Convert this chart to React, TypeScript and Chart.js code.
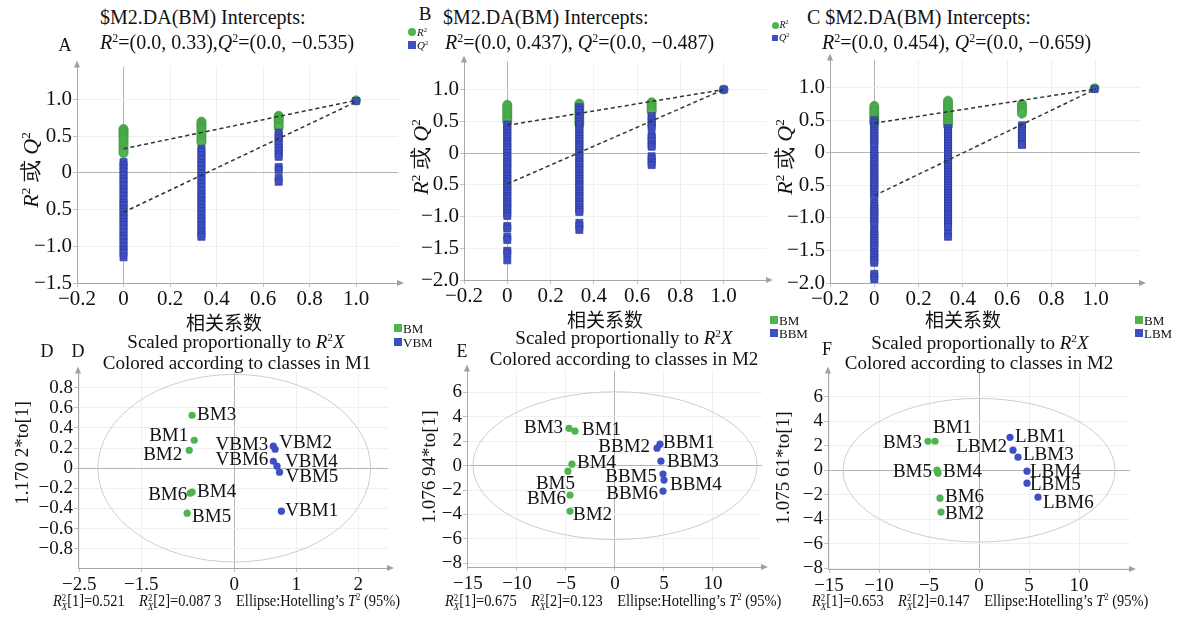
import React, { useEffect, useRef } from "react";
import { Chart, registerables } from "chart.js";
Chart.register(...registerables);

const FONT = "'Liberation Serif', 'Times New Roman', serif";
const CJK = "'Noto Sans CJK SC', sans-serif";
Chart.defaults.font.family = FONT;
const GREEN = "#4fb351";
const GREEN_DK = "#3d9640";
const BLUE = "#3d4fc3";
const BLUE_DK = "#2c3a9a";

// ---------- Panel A (permutation test) ----------
const permXA = [0, 0.335, 0.667, 1.0];
const r2A = [
  [0.6, 0.58, 0.56, 0.54, 0.52, 0.5, 0.48, 0.45, 0.42, 0.39, 0.36, 0.33, 0.3, 0.27],
  [0.7, 0.68, 0.66, 0.64, 0.62, 0.6, 0.57, 0.54, 0.51, 0.48, 0.45, 0.42],
  [0.78, 0.76, 0.74, 0.72, 0.7, 0.67, 0.64, 0.62],
  [0.99],
];
const q2A = [
  [0.15, 0.11, 0.07, 0.02, -0.03, -0.08, -0.12, -0.17, -0.22, -0.26, -0.31, -0.36, -0.41, -0.44, -0.49, -0.53, -0.58, -0.62, -0.67, -0.71, -0.76, -0.81, -0.86, -0.9, -0.95, -1.0, -1.05, -1.09, -1.15],
  [0.33, 0.29, 0.24, 0.19, 0.14, 0.1, 0.05, 0.0, -0.04, -0.09, -0.14, -0.19, -0.24, -0.29, -0.33, -0.38, -0.43, -0.48, -0.52, -0.57, -0.62, -0.66, -0.71, -0.76, -0.8, -0.84, -0.87],
  [0.55, 0.51, 0.47, 0.43, 0.39, 0.34, 0.3, 0.26, 0.22, 0.08, 0.04, -0.07, -0.12],
  [0.98],
];
const r2LineA = [0.33, 0.99];
const q2LineA = [-0.535, 0.97];

// ---------- Panel B ----------
const permXB = [0, 0.333, 0.667, 1.0];
const r2B = [
  [0.76, 0.73, 0.7, 0.67, 0.64, 0.61, 0.58, 0.55, 0.52, 0.49],
  [0.78, 0.75, 0.72, 0.68, 0.64, 0.6, 0.56, 0.52, 0.48, 0.45],
  [0.8, 0.77, 0.74, 0.71, 0.68, 0.65],
  [1.0],
];
const q2B = [
  [0.45, 0.41, 0.36, 0.32, 0.27, 0.23, 0.18, 0.14, 0.09, 0.05, 0.0, -0.05, -0.09, -0.14, -0.18, -0.23, -0.27, -0.32, -0.36, -0.41, -0.45, -0.5, -0.54, -0.59, -0.63, -0.68, -0.72, -0.77, -0.81, -0.86, -0.9, -0.95, -0.99, -1.15, -1.19, -1.32, -1.37, -1.54, -1.58, -1.69],
  [0.72, 0.68, 0.63, 0.58, 0.54, 0.49, 0.45, 0.4, 0.36, 0.31, 0.27, 0.22, 0.18, 0.13, 0.09, 0.04, 0.0, -0.05, -0.09, -0.14, -0.18, -0.23, -0.27, -0.32, -0.36, -0.41, -0.45, -0.5, -0.54, -0.59, -0.63, -0.68, -0.72, -0.77, -0.81, -0.86, -0.9, -0.93, -1.1, -1.15, -1.21],
  [0.58, 0.53, 0.48, 0.44, 0.4, 0.28, 0.24, 0.19, 0.13, 0.1, -0.05, -0.09, -0.15, -0.19],
  [1.0],
];
const r2LineB = [0.437, 1.0];
const q2LineB = [-0.487, 1.0];

// ---------- Panel C ----------
const permXC = [0, 0.333, 0.667, 0.995];
const r2C = [
  [0.72, 0.69, 0.66, 0.63, 0.6, 0.57, 0.54, 0.51, 0.48, 0.45],
  [0.8, 0.77, 0.74, 0.71, 0.68, 0.65, 0.62, 0.59, 0.56, 0.53, 0.5, 0.47, 0.44, 0.41],
  [0.75, 0.72, 0.69, 0.66, 0.63, 0.6],
  [0.99],
];
const q2C = [
  [0.5, 0.46, 0.42, 0.38, 0.34, 0.3, 0.26, 0.22, 0.18, 0.14, 0.1, 0.03, -0.01, -0.05, -0.09, -0.13, -0.17, -0.21, -0.25, -0.29, -0.33, -0.37, -0.41, -0.45, -0.49, -0.53, -0.57, -0.61, -0.65, -0.69, -0.78, -0.82, -0.86, -0.9, -0.94, -0.98, -1.02, -1.06, -1.1, -1.19, -1.23, -1.27, -1.31, -1.35, -1.39, -1.43, -1.47, -1.53, -1.57, -1.61, -1.65, -1.69, -1.86, -1.9, -1.95],
  [0.38, 0.34, 0.3, 0.26, 0.22, 0.18, 0.14, 0.1, 0.06, 0.02, -0.02, -0.06, -0.1, -0.14, -0.18, -0.22, -0.26, -0.3, -0.34, -0.38, -0.42, -0.46, -0.5, -0.54, -0.58, -0.62, -0.66, -0.7, -0.74, -0.78, -0.82, -0.86, -0.9, -0.94, -0.98, -1.02, -1.06, -1.1, -1.14, -1.24, -1.29],
  [0.42, 0.38, 0.34, 0.3, 0.26, 0.22, 0.18, 0.14, 0.12],
  [0.98],
];
const r2LineC = [0.454, 0.98];
const q2LineC = [-0.659, 0.98];

const permTicksX = [-0.2, 0, 0.2, 0.4, 0.6, 0.8, 1.0];
const permTickLabelsX = ["−0.2", "0", "0.2", "0.4", "0.6", "0.8", "1.0"];
const permTicksYA = [-1.5, -1.0, -0.5, 0, 0.5, 1.0];
const permTickLabelsYA = ["−1.5", "−1.0", "0.5", "0", "0.5", "1.0"];
const permTicksYB = [-2.0, -1.5, -1.0, -0.5, 0, 0.5, 1.0];
const permTickLabelsYB = ["−2.0", "−1.5", "−1.0", "0.5", "0", "0.5", "1.0"];

// ---------- Panel D (score plot) ----------
const namesD = ["BM1", "BM2", "BM3", "BM4", "BM5", "BM6", "VBM1", "VBM2", "VBM3", "VBM4", "VBM5", "VBM6"];
const xD = [-0.645, -0.726, -0.68, -0.68, -0.76, -0.71, 0.76, 0.66, 0.63, 0.69, 0.73, 0.63];
const yD = [0.277, 0.178, 0.525, -0.238, -0.446, -0.248, -0.426, 0.188, 0.218, 0.02, -0.04, 0.069];
const groupD = [0, 0, 0, 0, 0, 0, 1, 1, 1, 1, 1, 1];
const ellipseD = [2.2, 0.93];
const ticksXD = [-2.5, -1.5, 0, 1, 2];
const tickLabelsXD = ["−2.5", "−1.5", "0", "1", "2"];
const ticksYD = [-0.8, -0.6, -0.4, -0.2, 0, 0.2, 0.4, 0.6, 0.8];
const tickLabelsYD = ["−0.8", "−0.6", "−0.4", "−0.2", "0", "0.2", "0.4", "0.6", "0.8"];

// ---------- Panel E ----------
const namesE = ["BM1", "BM2", "BM3", "BM4", "BM5", "BM6", "BBM1", "BBM2", "BBM3", "BBM4", "BBM5", "BBM6"];
const xE = [-4.08, -4.59, -4.69, -4.39, -4.8, -4.59, 4.59, 4.29, 4.69, 5.0, 4.9, 4.9];
const yE = [2.82, -3.72, 3.06, 0.12, -0.45, -2.41, 1.76, 1.43, 0.37, -1.18, -0.69, -2.08];
const groupE = [0, 0, 0, 0, 0, 0, 1, 1, 1, 1, 1, 1];
const ellipseE = [14.5, 6.05];

// ---------- Panel F ----------
const namesF = ["BM1", "BM2", "BM3", "BM4", "BM5", "BM6", "LBM1", "LBM2", "LBM3", "LBM4", "LBM5", "LBM6"];
const xF = [-4.4, -3.8, -5.1, -4.1, -4.2, -3.9, 3.1, 3.4, 3.9, 4.8, 4.8, 5.9];
const yF = [2.36, -3.41, 2.36, -0.24, 0.0, -2.28, 2.68, 1.63, 1.06, -0.08, -1.06, -2.2];
const groupF = [0, 0, 0, 0, 0, 0, 1, 1, 1, 1, 1, 1];
const ellipseF = [13.6, 5.85];

const ticksXEF = [-15, -10, -5, 0, 5, 10];
const tickLabelsXEF = ["−15", "−10", "−5", "0", "5", "10"];
const ticksYEF = [-8, -6, -4, -2, 0, 2, 4, 6];
const tickLabelsYEF = ["−8", "−6", "−4", "−2", "0", "2", "4", "6"];

// label placement (pixel offsets from the point; align: "l" text starts, "r" text ends)
const placeD: [number, number, string][] = [
  [-6, -4, "r"], [-7, 5, "r"], [5, 0, "l"], [5, 0, "l"], [5, 4, "l"], [-3, 2, "r"],
  [4, 0, "l"], [4, -6, "l"], [-5, -1, "r"], [8, -4, "l"], [6, 5, "l"], [-5, -1, "r"],
];
const placeE: [number, number, string][] = [
  [7, -1, "l"], [3, 4, "l"], [-6, 0, "r"], [5, -1, "l"], [7, 13, "r"], [-4, 4, "r"],
  [3, -1, "l"], [-7, -1, "r"], [6, 1, "l"], [6, 5, "l"], [-6, 3, "r"], [-5, 3, "r"],
];
const placeF: [number, number, string][] = [
  [-2, -13, "l"], [4, 2, "l"], [-6, 2, "r"], [5, -1, "l"], [-5, 2, "r"], [5, -1, "l"],
  [5, 0, "l"], [-6, -3, "r"], [5, -2, "l"], [3, 1, "l"], [3, 2, "l"], [5, 6, "l"],
];

type Box = { left: number; top: number; w: number; h: number };
const YW = 70, PT = 12, PR = 14, XH = 34;

const arrowPlugin = {
  id: "arrows",
  afterDraw(chart: any) {
    const { ctx } = chart;
    const { left, right, top, bottom } = chart.chartArea;
    ctx.save();
    ctx.fillStyle = "#a0a0a0";
    ctx.beginPath();
    ctx.moveTo(left, top - 6);
    ctx.lineTo(left - 3, top + 1);
    ctx.lineTo(left + 3, top + 1);
    ctx.fill();
    ctx.beginPath();
    ctx.moveTo(right + 6, bottom);
    ctx.lineTo(right - 1, bottom - 3);
    ctx.lineTo(right - 1, bottom + 3);
    ctx.fill();
    ctx.restore();
  },
};

const ellipsePlugin = {
  id: "ellipse",
  beforeDatasetsDraw(chart: any, _a: any, opts: any) {
    if (!opts || !opts.axes) return;
    const [a, b] = opts.axes;
    const xs = chart.scales.x, ys = chart.scales.y;
    const cx = xs.getPixelForValue(0), cy = ys.getPixelForValue(0);
    const rx = xs.getPixelForValue(a) - cx;
    const ry = cy - ys.getPixelForValue(b);
    const ctx = chart.ctx;
    ctx.save();
    ctx.strokeStyle = "#cdcdcd";
    ctx.lineWidth = 1;
    ctx.beginPath();
    ctx.ellipse(cx, cy, rx, ry, 0, 0, Math.PI * 2);
    ctx.stroke();
    ctx.restore();
  },
};

const labelPlugin = {
  id: "pointLabels",
  afterDatasetsDraw(chart: any) {
    const ctx = chart.ctx;
    ctx.save();
    ctx.font = `19px ${FONT}`;
    ctx.fillStyle = "#111";
    ctx.textBaseline = "middle";
    chart.data.datasets.forEach((ds: any, di: number) => {
      const meta = chart.getDatasetMeta(di);
      meta.data.forEach((el: any, j: number) => {
        const raw = ds.data[j];
        if (!raw || !raw.name) return;
        const [dx, dy, al] = raw.place;
        ctx.textAlign = al === "l" ? "left" : "right";
        ctx.fillText(raw.name, el.x + dx, el.y + dy);
      });
    });
    ctx.restore();
  },
};

function axis(min: number, max: number, ticks: number[], labels: string[], isY: boolean, pad: number, fs: number) {
  return {
    type: "linear",
    min,
    max,
    bounds: "data",
    afterBuildTicks: (s: any) => {
      s.ticks = ticks.map((v) => ({ value: v }));
    },
    afterFit: (s: any) => {
      if (isY) s.width = YW;
      else s.height = XH;
    },
    ticks: {
      autoSkip: false,
      maxRotation: 0,
      minRotation: 0,
      padding: pad,
      color: "#111",
      font: { family: FONT, size: fs },
      callback: (_v: any, i: number) => labels[i],
    },
    grid: {
      color: (c: any) => (c.tick && c.tick.value === 0 ? "#b4b4b4" : "#f0f0f0"),
      lineWidth: 1,
      drawTicks: true,
      tickLength: 4,
      tickColor: "#c4c4c4",
    },
    border: { display: true, color: "#a8a8a8", width: 1 },
  };
}

function permConfig(px: number[], r2: number[][], q2: number[][], r2L: number[], q2L: number[], xr: number[], yr: number[], yt: number[], ytl: string[]) {
  const r2pts: any[] = [];
  const q2pts: any[] = [];
  r2.forEach((col, c) => col.forEach((v) => r2pts.push({ x: px[c], y: v })));
  q2.forEach((col, c) => col.forEach((v) => q2pts.push({ x: px[c], y: v })));
  return {
    type: "scatter",
    data: {
      datasets: [
        {
          type: "line",
          data: [{ x: 0, y: r2L[0] }, { x: 1, y: r2L[1] }],
          borderColor: "#333",
          borderWidth: 1.5,
          borderDash: [4, 3],
          pointRadius: 0,
          showLine: true,
          order: 0,
        },
        {
          type: "line",
          data: [{ x: 0, y: q2L[0] }, { x: 1, y: q2L[1] }],
          borderColor: "#333",
          borderWidth: 1.5,
          borderDash: [4, 3],
          pointRadius: 0,
          showLine: true,
          order: 0,
        },
        {
          data: q2pts,
          pointStyle: "rect",
          pointRadius: 5,
          backgroundColor: BLUE,
          borderColor: BLUE_DK,
          borderWidth: 0.7,
          order: 1,
        },
        {
          data: r2pts,
          pointStyle: "circle",
          pointRadius: 4.5,
          backgroundColor: GREEN,
          borderColor: GREEN_DK,
          borderWidth: 0.7,
          order: 2,
        },
      ],
    },
    options: {
      responsive: false,
      animation: false,
      events: [],
      font: { family: FONT },
      layout: { padding: { top: PT, right: PR, left: 0, bottom: 0 } },
      plugins: { legend: { display: false }, tooltip: { enabled: false } },
      scales: {
        x: axis(xr[0], xr[1], permTicksX, permTickLabelsX, false, 0, 21),
        y: axis(yr[0], yr[1], yt, ytl, true, 1, 21),
      },
    },
    plugins: [arrowPlugin],
  };
}

function scoreConfig(names: string[], xs: number[], ys: number[], grp: number[], place: [number, number, string][], ell: number[], xr: number[], yr: number[], xt: number[], xtl: string[], yt: number[], ytl: string[]) {
  const g0: any[] = [];
  const g1: any[] = [];
  names.forEach((n, i) => {
    const p = { x: xs[i], y: ys[i], name: n, place: place[i] };
    (grp[i] === 0 ? g0 : g1).push(p);
  });
  return {
    type: "scatter",
    data: {
      datasets: [
        { data: g0, pointRadius: 3.6, backgroundColor: GREEN, borderWidth: 0 },
        { data: g1, pointRadius: 3.6, backgroundColor: BLUE, borderWidth: 0 },
      ],
    },
    options: {
      responsive: false,
      animation: false,
      events: [],
      font: { family: FONT },
      layout: { padding: { top: PT, right: PR, left: 0, bottom: 0 } },
      plugins: { legend: { display: false }, tooltip: { enabled: false }, ellipse: { axes: ell } },
      scales: {
        x: axis(xr[0], xr[1], xt, xtl, false, 2, 19),
        y: axis(yr[0], yr[1], yt, ytl, true, 1, 19),
      },
    },
    plugins: [arrowPlugin, ellipsePlugin, labelPlugin],
  };
}

function ChartPanel({ box, build }: { box: Box; build: () => any }) {
  const ref = useRef<HTMLCanvasElement>(null);
  useEffect(() => {
    const chart = new Chart(ref.current as HTMLCanvasElement, build());
    return () => chart.destroy();
  }, []);
  const W = YW + box.w + PR;
  const H = PT + box.h + XH;
  return (
    <canvas
      ref={ref}
      width={W}
      height={H}
      style={{ position: "absolute", left: box.left - YW, top: box.top - PT, width: W, height: H }}
    />
  );
}

function Txt(props: any) {
  const { x, y, size = 19, align = "center", rot = 0, family = FONT, style = {}, children } = props;
  const tx = align === "center" ? "-50%" : align === "right" ? "-100%" : "0";
  return (
    <div
      style={{
        position: "absolute",
        left: x,
        top: y,
        transform: `translate(${tx}, -50%) rotate(${rot}deg)`,
        transformOrigin: "center",
        fontFamily: family,
        fontSize: size,
        whiteSpace: "nowrap",
        lineHeight: 1,
        color: "#111",
        ...style,
      }}
    >
      {children}
    </div>
  );
}

const Sup = ({ children }: any) => (
  <span style={{ fontSize: "0.6em", position: "relative", top: "-0.6em" }}>{children}</span>
);
const I = ({ children }: any) => <i>{children}</i>;

function R2X() {
  return (
    <span>
      <I>R</I>
      <span style={{ display: "inline-block", verticalAlign: "middle", lineHeight: 0.9, fontSize: "0.6em", textAlign: "left" }}>
        <span style={{ display: "block" }}>2</span>
        <span style={{ display: "block" }}><I>X</I></span>
      </span>
    </span>
  );
}

function Stats({ x, a, b }: any) {
  return (
    <div
      style={{
        position: "absolute",
        left: x,
        top: 592,
        fontFamily: FONT,
        fontSize: 17,
        whiteSpace: "nowrap",
        lineHeight: 1,
        color: "#111",
        transform: "scaleX(0.85)",
        transformOrigin: "left top",
      }}
    >
      <R2X />[1]=<span>{a}</span>&nbsp;&nbsp;&nbsp; <R2X />[2]=<span>{b}</span>&nbsp;&nbsp;&nbsp; Ellipse:Hotelling’s <I>T</I>
      <Sup>2</Sup> (95%)
    </div>
  );
}

function LegendItem({ x, y, color, label, shape = "sq", size = 8, fs = 13 }: any) {
  return (
    <>
      <div
        style={{
          position: "absolute",
          left: x - size / 2,
          top: y - size / 2,
          width: size,
          height: size,
          background: color,
          borderRadius: shape === "dot" ? "50%" : 0,
        }}
      />
      <Txt x={x + size / 2 + 1} y={y} size={fs} align="left">
        {label}
      </Txt>
    </>
  );
}

const RQ = () => (
  <span>
    <I>R</I>
    <Sup>2</Sup> 或 <I>Q</I>
    <Sup>2</Sup>
  </span>
);

export default function App() {
  const boxA: Box = { left: 77, top: 65, w: 321, h: 218 };
  const boxB: Box = { left: 464, top: 60, w: 303, h: 220 };
  const boxC: Box = { left: 830, top: 58, w: 310, h: 225 };
  const boxD: Box = { left: 78, top: 372, w: 310, h: 196 };
  const boxE: Box = { left: 467, top: 370, w: 295, h: 197 };
  const boxF: Box = { left: 828, top: 372, w: 302, h: 197 };

  return (
    <div style={{ position: "absolute", left: 0, top: 0, width: 1178, height: 619, background: "#fff", overflow: "hidden" }}>
      <ChartPanel box={boxA} build={() => permConfig(permXA, r2A, q2A, r2LineA, q2LineA, [-0.2, 1.18], [-1.5, 1.45], permTicksYA, permTickLabelsYA)} />
      <ChartPanel box={boxB} build={() => permConfig(permXB, r2B, q2B, r2LineB, q2LineB, [-0.2, 1.2], [-2.0, 1.44], permTicksYB, permTickLabelsYB)} />
      <ChartPanel box={boxC} build={() => permConfig(permXC, r2C, q2C, r2LineC, q2LineC, [-0.2, 1.2], [-2.0, 1.43], permTicksYB, permTickLabelsYB)} />
      <ChartPanel box={boxD} build={() => scoreConfig(namesD, xD, yD, groupD, placeD, ellipseD, [-2.52, 2.48], [-0.99, 0.95], ticksXD, tickLabelsXD, ticksYD, tickLabelsYD)} />
      <ChartPanel box={boxE} build={() => scoreConfig(namesE, xE, yE, groupE, placeE, ellipseE, [-15.1, 15.0], [-8.3, 7.8], ticksXEF, tickLabelsXEF, ticksYEF, tickLabelsYEF)} />
      <ChartPanel box={boxF} build={() => scoreConfig(namesF, xF, yF, groupF, placeF, ellipseF, [-15.1, 15.1], [-8.05, 7.97], ticksXEF, tickLabelsXEF, ticksYEF, tickLabelsYEF)} />

      {/* Top titles */}
      <Txt x={100} y={17} size={20} align="left">$M2.DA(BM) Intercepts:</Txt>
      <Txt x={100} y={42} size={20} align="left">
        <I>R</I><Sup>2</Sup>=(0.0, 0.33),<I>Q</I><Sup>2</Sup>=(0.0, −0.535)
      </Txt>
      <Txt x={65} y={45} size={18}>A</Txt>

      <Txt x={425} y={13} size={19}>B</Txt>
      <Txt x={443} y={17} size={20} align="left">$M2.DA(BM) Intercepts:</Txt>
      <Txt x={445} y={42} size={20} align="left">
        <I>R</I><Sup>2</Sup>=(0.0, 0.437), <I>Q</I><Sup>2</Sup>=(0.0, −0.487)
      </Txt>

      <Txt x={807} y={17} size={20} align="left">C $M2.DA(BM) Intercepts:</Txt>
      <Txt x={822} y={42} size={20} align="left">
        <I>R</I><Sup>2</Sup>=(0.0, 0.454), <I>Q</I><Sup>2</Sup>=(0.0, −0.659)
      </Txt>

      {/* Top legends */}
      <LegendItem x={412} y={32} color={GREEN} shape="dot" size={8} fs={11} label={<span><I>R</I><Sup>2</Sup></span>} />
      <LegendItem x={412} y={45} color={BLUE} size={8} fs={11} label={<span><I>Q</I><Sup>2</Sup></span>} />
      <LegendItem x={775} y={25} color={GREEN} shape="dot" size={7} fs={10} label={<span><I>R</I><Sup>2</Sup></span>} />
      <LegendItem x={775} y={38} color={BLUE} size={6} fs={10} label={<span><I>Q</I><Sup>2</Sup></span>} />

      {/* Top y titles */}
      <Txt x={31} y={170} size={22} rot={-90}><RQ /></Txt>
      <Txt x={421} y={157} size={22} rot={-90}><RQ /></Txt>
      <Txt x={785} y={157} size={22} rot={-90}><RQ /></Txt>

      {/* Top x titles */}
      <Txt x={224} y={321} size={19} family={CJK}>相关系数</Txt>
      <Txt x={605} y={318} size={19} family={CJK}>相关系数</Txt>
      <Txt x={963} y={318} size={19} family={CJK}>相关系数</Txt>

      {/* Bottom titles */}
      <Txt x={236} y={341} size={19}>Scaled proportionally to <I>R</I><Sup>2</Sup><I>X</I></Txt>
      <Txt x={237} y={362} size={19}>Colored according to classes in M1</Txt>
      <Txt x={47} y={351} size={18}>D</Txt>
      <Txt x={78} y={351} size={18}>D</Txt>

      <Txt x={624} y={337} size={19}>Scaled proportionally to <I>R</I><Sup>2</Sup><I>X</I></Txt>
      <Txt x={624} y={358} size={19}>Colored according to classes in M2</Txt>
      <Txt x={462} y={351} size={18}>E</Txt>

      <Txt x={980} y={342} size={19}>Scaled proportionally to <I>R</I><Sup>2</Sup><I>X</I></Txt>
      <Txt x={979} y={362} size={19}>Colored according to classes in M2</Txt>
      <Txt x={827} y={349} size={18}>F</Txt>

      {/* Bottom legends */}
      <LegendItem x={398} y={328} color={GREEN} size={8} fs={13} label="BM" />
      <LegendItem x={398} y={342} color={BLUE} size={8} fs={13} label="VBM" />
      <LegendItem x={774} y={320} color={GREEN} size={8} fs={13} label="BM" />
      <LegendItem x={774} y={333} color={BLUE} size={8} fs={13} label="BBM" />
      <LegendItem x={1139} y={320} color={GREEN} size={8} fs={13} label="BM" />
      <LegendItem x={1139} y={333} color={BLUE} size={8} fs={13} label="LBM" />

      {/* Bottom y titles */}
      <Txt x={21} y={453} size={19} rot={-90}>1.170 2*to[1]</Txt>
      <Txt x={428} y={467} size={19} rot={-90}>1.076 94*to[1]</Txt>
      <Txt x={782} y={468} size={19} rot={-90}>1.075 61*to[1]</Txt>

      {/* Bottom stats */}
      <Stats x={53} a="0.521" b="0.087 3" />
      <Stats x={445} a="0.675" b="0.123" />
      <Stats x={812} a="0.653" b="0.147" />
    </div>
  );
}
